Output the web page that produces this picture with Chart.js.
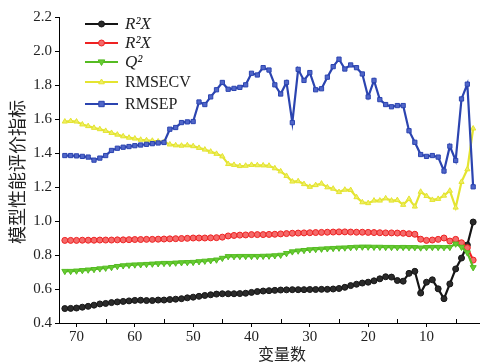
<!DOCTYPE html>
<html><head><meta charset="utf-8">
<script src="https://cdn.jsdelivr.net/npm/chart.js@4.4.1/dist/chart.umd.min.js"></script>
<style>html,body{margin:0;padding:0;background:#fff;}canvas{display:block;}</style>
</head><body>
<canvas id="c" width="484" height="363"></canvas>
<script>
const variables = [72,71,70,69,68,67,66,65,64,63,62,61,60,59,58,57,56,55,54,53,52,51,50,49,48,47,46,45,44,43,42,41,40,39,38,37,36,35,34,33,32,31,30,29,28,27,26,25,24,23,22,21,20,19,18,17,16,15,14,13,12,11,10,9,8,7,6,5,4,3,2];
const r2xA = [0.485,0.486,0.488,0.493,0.498,0.505,0.512,0.515,0.520,0.524,0.527,0.530,0.533,0.534,0.532,0.532,0.535,0.535,0.538,0.540,0.543,0.548,0.552,0.557,0.562,0.566,0.570,0.572,0.572,0.572,0.573,0.575,0.580,0.585,0.588,0.590,0.592,0.594,0.595,0.596,0.596,0.596,0.597,0.597,0.598,0.598,0.600,0.603,0.610,0.620,0.628,0.635,0.640,0.648,0.660,0.672,0.670,0.650,0.646,0.692,0.704,0.576,0.640,0.654,0.601,0.543,0.630,0.718,0.782,0.859,0.994];
const r2xB = [0.886,0.886,0.886,0.887,0.887,0.887,0.888,0.888,0.888,0.889,0.889,0.890,0.891,0.891,0.892,0.892,0.893,0.894,0.895,0.896,0.897,0.898,0.900,0.900,0.900,0.901,0.902,0.905,0.912,0.915,0.917,0.918,0.920,0.920,0.920,0.921,0.922,0.924,0.926,0.928,0.929,0.930,0.931,0.932,0.933,0.934,0.935,0.936,0.936,0.935,0.934,0.934,0.933,0.932,0.931,0.930,0.930,0.929,0.928,0.925,0.922,0.893,0.886,0.888,0.892,0.900,0.882,0.892,0.872,0.843,0.770];
const q2 = [0.705,0.705,0.707,0.710,0.713,0.716,0.720,0.724,0.728,0.734,0.738,0.741,0.743,0.744,0.746,0.748,0.750,0.752,0.752,0.754,0.756,0.757,0.758,0.762,0.765,0.768,0.772,0.782,0.792,0.792,0.793,0.793,0.793,0.793,0.794,0.795,0.797,0.800,0.810,0.820,0.825,0.828,0.832,0.834,0.836,0.838,0.840,0.842,0.843,0.845,0.847,0.848,0.848,0.847,0.847,0.846,0.846,0.845,0.846,0.845,0.845,0.843,0.845,0.846,0.846,0.845,0.846,0.866,0.847,0.814,0.727];
const rmsecv = [1.585,1.588,1.585,1.568,1.558,1.548,1.540,1.530,1.518,1.508,1.498,1.490,1.485,1.478,1.475,1.472,1.468,1.465,1.450,1.445,1.443,1.445,1.440,1.430,1.420,1.408,1.395,1.380,1.335,1.330,1.323,1.325,1.330,1.328,1.327,1.325,1.310,1.292,1.265,1.232,1.234,1.217,1.201,1.211,1.220,1.198,1.190,1.170,1.184,1.182,1.140,1.110,1.105,1.120,1.120,1.133,1.120,1.123,1.095,1.130,1.085,1.172,1.147,1.124,1.130,1.149,1.178,1.079,1.230,1.304,1.544];
const rmsep = [1.385,1.385,1.383,1.380,1.376,1.358,1.370,1.385,1.415,1.428,1.434,1.438,1.443,1.447,1.451,1.455,1.459,1.462,1.540,1.550,1.579,1.583,1.585,1.700,1.685,1.730,1.772,1.815,1.775,1.780,1.786,1.801,1.869,1.859,1.902,1.888,1.801,1.747,1.815,1.579,1.892,1.827,1.873,1.772,1.778,1.846,1.908,1.952,1.894,1.918,1.902,1.865,1.730,1.827,1.714,1.685,1.672,1.679,1.679,1.531,1.463,1.391,1.380,1.385,1.376,1.294,1.440,1.356,1.718,1.805,1.201];
const seriesNames = ['R²X','R²X','Q²','RMSECV','RMSEP'];
const xMajorTicks = [70,60,50,40,30,20,10];
const xMinorTicks = [65,55,45,35,25,15,5];
const yTicks = [0.4,0.6,0.8,1.0,1.2,1.4,1.6,1.8,2.0,2.2];
const xTitle = '变量数';
const yTitle = '模型性能评价指标';

const styles = [
  {color:'#151515', fill:'#2a2a2a', pointStyle:'circle', r:3, rot:0},
  {color:'#ee2222', fill:'#f46a6a', pointStyle:'circle', r:3, rot:0},
  {color:'#55bb22', fill:'#66cc33', pointStyle:'triangle', r:3.5, rot:180},
  {color:'#e4e430', fill:'#eeee66', pointStyle:'triangle', r:3, rot:0},
  {color:'#2b44b0', fill:'#5066c8', pointStyle:'rect', r:3, rot:0}
];
const allSeries = [r2xA, r2xB, q2, rmsecv, rmsep];

const datasets = allSeries.map((s, k) => ({
  label: seriesNames[k],
  data: variables.map((v, i) => ({x: v, y: s[i]})),
  borderColor: styles[k].color,
  backgroundColor: styles[k].fill,
  pointBackgroundColor: styles[k].fill,
  pointBorderColor: styles[k].color,
  pointStyle: styles[k].pointStyle,
  pointRadius: styles[k].r,
  pointRotation: styles[k].rot,
  pointBorderWidth: 1,
  borderWidth: 2.2,
  tension: 0,
  order: 5 - k
}));

function drawMarker(ctx, st, x, y) {
  ctx.save();
  ctx.fillStyle = st.fill; ctx.strokeStyle = st.color; ctx.lineWidth = 1;
  ctx.beginPath();
  const r = st.r;
  if (st.pointStyle === 'circle') { ctx.arc(x, y, r, 0, Math.PI*2); }
  else if (st.pointStyle === 'rect') { ctx.rect(x - r*0.9, y - r*0.9, r*1.8, r*1.8); }
  else {
    const s = st.rot === 180 ? -1 : 1;
    ctx.moveTo(x, y - s*r); ctx.lineTo(x - r*0.95, y + s*r*0.6); ctx.lineTo(x + r*0.95, y + s*r*0.6); ctx.closePath();
  }
  ctx.fill(); ctx.stroke();
  ctx.restore();
}

const decor = {
  id: 'decor',
  afterDraw(chart) {
    const ctx = chart.ctx;
    const xs = chart.scales.x;
    const bottom = chart.chartArea.bottom;
    ctx.save();
    ctx.strokeStyle = '#000'; ctx.lineWidth = 1;
    xMinorTicks.forEach(v => {
      const px = Math.round(xs.getPixelForValue(v)) + 0.5;
      ctx.beginPath(); ctx.moveTo(px, bottom); ctx.lineTo(px, bottom - 4); ctx.stroke();
    });
    ctx.fillStyle = '#222';
    ctx.font = '16px "Noto Sans CJK SC"';
    ctx.textAlign = 'center'; ctx.textBaseline = 'middle';
    ctx.fillText(xTitle, 282, 354);
    ctx.save();
    ctx.font = '18px "Noto Sans CJK SC"';
    ctx.translate(17, 172); ctx.rotate(-Math.PI/2);
    ctx.fillText(yTitle, 0, 0);
    ctx.restore();
    const rows = [24, 43, 62, 82, 104];
    rows.forEach((ry, k) => {
      const st = styles[k];
      ctx.strokeStyle = st.color; ctx.lineWidth = 2.2;
      ctx.beginPath(); ctx.moveTo(85, ry); ctx.lineTo(118, ry); ctx.stroke();
      drawMarker(ctx, st, 101.5, ry);
      ctx.fillStyle = '#222';
      ctx.textAlign = 'left'; ctx.textBaseline = 'middle';
      ctx.font = (k < 3 ? 'italic 17px' : '16px') + ' "Liberation Serif", "Times New Roman", serif';
      ctx.fillText(seriesNames[k], 125, ry + 1);
    });
    ctx.restore();
  }
};

const tickFont = {family: '"Liberation Serif", "Times New Roman", serif', size: 15};

new Chart(document.getElementById('c'), {
  type: 'line',
  data: {datasets},
  options: {
    responsive: false,
    animation: false,
    layout: {padding: {top: 17, right: 0, left: 0, bottom: 0}},
    plugins: {legend: {display: false}, tooltip: {enabled: false}},
    scales: {
      x: {
        type: 'linear', min: 1, max: 73, reverse: true,
        afterBuildTicks: s => { s.ticks = xMajorTicks.concat(xMinorTicks).map(v => ({value: v})); },
        ticks: {autoSkip: false, maxRotation: 0, padding: 1, color: '#222', font: tickFont,
          callback: v => xMajorTicks.includes(v) ? String(v) : ''},
        grid: {drawOnChartArea: false, drawTicks: true, tickLength: 4,
          tickColor: ctx => (ctx.tick && xMajorTicks.includes(ctx.tick.value)) ? '#000' : 'rgba(0,0,0,0)'},
        border: {display: true, color: '#000', width: 1},
        afterFit: s => { s.height = 40; }
      },
      y: {
        min: 0.4, max: 2.2,
        afterBuildTicks: s => { s.ticks = yTicks.map(v => ({value: v})); },
        ticks: {padding: 3, color: '#222', font: tickFont, callback: v => Number(v).toFixed(1)},
        grid: {drawOnChartArea: false, drawTicks: true, tickLength: 4, tickColor: '#000'},
        border: {display: true, color: '#000', width: 1},
        afterFit: s => { s.width = 59; }
      }
    }
  },
  plugins: [decor]
});
</script>
</body></html>
